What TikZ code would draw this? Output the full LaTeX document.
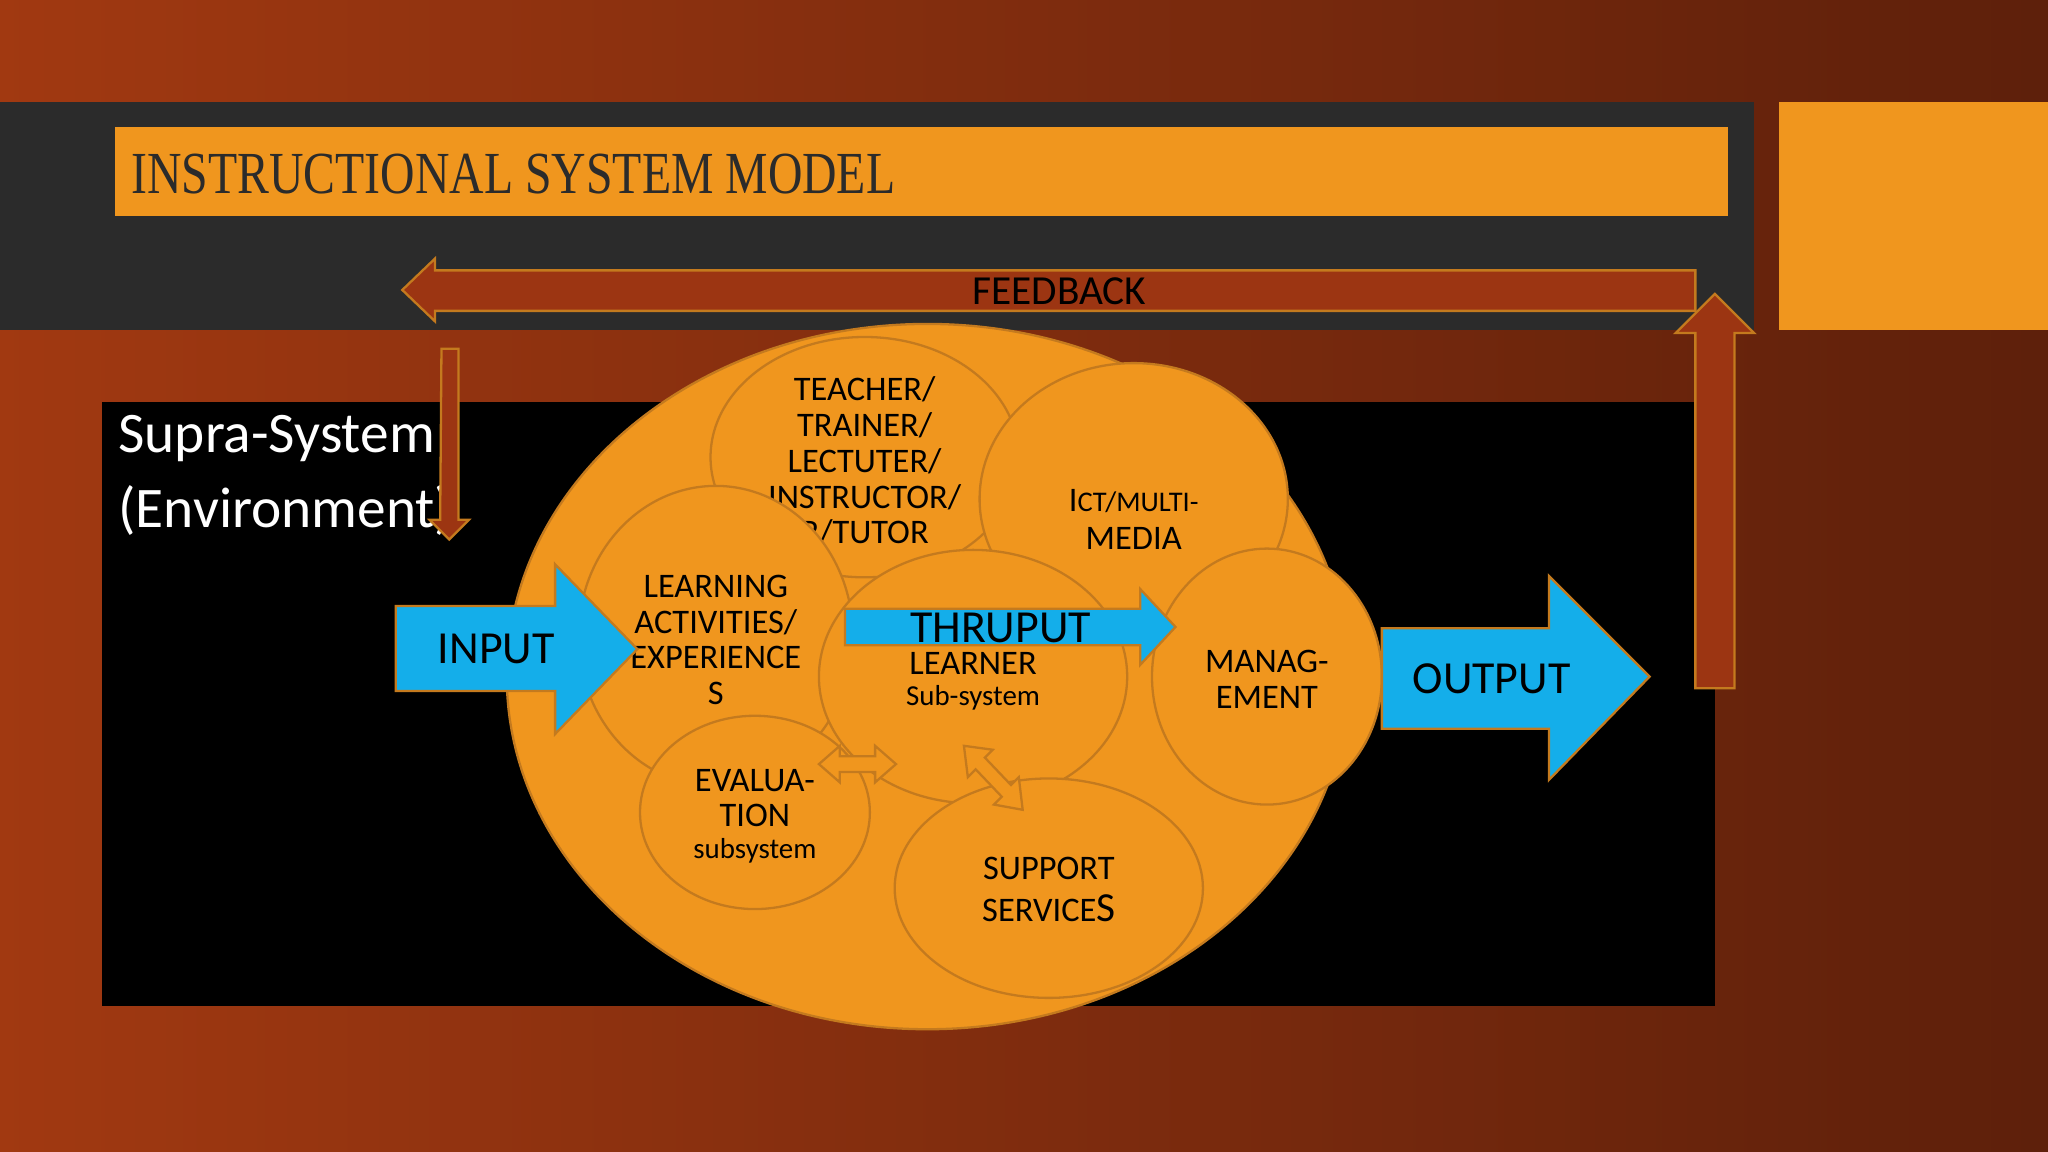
\documentclass[tikz,border=0pt]{standalone}
\usepackage{fontspec}
\setmainfont{Carlito}
\newfontfamily\titlefont{Liberation Serif}
\definecolor{org}{HTML}{F0961E}
\definecolor{orgline}{HTML}{C47A1E}
\definecolor{rust}{HTML}{9C3512}
\definecolor{cyanb}{HTML}{14AEEA}
\definecolor{band}{HTML}{2B2B2B}
\tikzset{
 blob/.style={draw=orgline,line width=0.5pt,fill=org},
 lbl/.style={align=center,text=black,inner sep=0pt,font=\fontsize{7.5}{7.8}\selectfont},
 fb/.style={draw=orgline,line width=0.5pt,fill=rust},
 cy/.style={draw=orgline,line width=0.5pt,fill=cyanb},
}
\begin{document}
\begin{tikzpicture}[x=0.1mm,y=-0.1mm]
\useasboundingbox (0,0) rectangle (1568,882);
\shade[left color=rust!95!orange, right color=rust!60!black] (0,0) rectangle (1568,882);
\fill[band] (0,78) rectangle (1343,253);
\fill[org] (1362,78) rectangle (1568,253);
\fill[org] (88,97) rectangle (1323,165);
\node[anchor=west,inner sep=0pt,text=band] (title) at (100,133) {\scalebox{0.8}[1]{\titlefont\fontsize{13}{13}\selectfont INSTRUCTIONAL SYSTEM MODEL}};
\fill[black] (78,308) rectangle (1313,770);
\node[anchor=west,text=white,align=left,inner sep=0pt,font=\fontsize{12.5}{16.5}\selectfont] (supra) at (90,364) {Supra-System\\(Environment)};
% feedback
\draw[fb] (1298,207) -- (333,207) -- (333,198) -- (308,222) -- (333,246) -- (333,238) -- (1298,238) -- cycle;
\node[lbl,font=\fontsize{9}{9}\selectfont] (fbt) at (811,223) {FEEDBACK};
\draw[fb] (338,267) -- (351,267) -- (351,398) -- (359,398) -- (344,413) -- (329,398) -- (337,398) -- cycle;
\draw[fb] (1298,527) -- (1298,255) -- (1283,255) -- (1313,225) -- (1343,255) -- (1328,255) -- (1328,527) -- cycle;
% ellipse and circles
\draw[blob] (710,518) ellipse [x radius=322, y radius=270];
\draw[blob] (662,350) ellipse [x radius=118, y radius=92];
\node[lbl] (teacher) at (662,353) {TEACHER/\\TRAINER/\\LECTUTER/\\INSTRUCTOR/\\R/TUTOR};
\draw[blob] (868,382) ellipse [x radius=118, y radius=104];
\node[lbl,font=\fontsize{7.5}{8.3}\selectfont] (ict) at (868,398) {I{\fontsize{6.2}{8}\selectfont CT/MULTI-}\\MEDIA};
\draw[blob] (548,487) ellipse [x radius=105, y radius=115];
\node[lbl] (learn) at (548,490) {LEARNING\\ACTIVITIES/\\EXPERIENCE\\S};
\draw[blob] (745,518) ellipse [x radius=118, y radius=97];
\node[lbl] (learner) at (745,508) {LEARNER};
\node[lbl,font=\fontsize{6.3}{7}\selectfont] (learnersub) at (745,534) {Sub-system};
\draw[blob] (970,518) ellipse [x radius=88, y radius=98];
\node[lbl] (mgmt) at (970,520) {MANAG-\\EMENT};
\draw[blob] (578,622) ellipse [x radius=88, y radius=74];
\node[lbl] (eval) at (578,611) {EVALUA-\\TION};
\node[lbl,font=\fontsize{6.3}{7}\selectfont] (evalsub) at (578,651) {subsystem};
\draw[blob] (803,680) ellipse [x radius=118, y radius=84];
\node[lbl,font=\fontsize{7.5}{9.2}\selectfont] (supp) at (803,681) {SUPPORT\\SERVICE{\fontsize{9}{9}\selectfont S}};
% small double arrows
\draw[blob] (627,585) -- (643,571) -- (643,579) -- (670,579) -- (670,571) -- (686,585) -- (670,599) -- (670,591) -- (643,591) -- (643,599) -- cycle;
\draw[blob] (738,571) -- (760,574) -- (754,580) -- (774,601) -- (780,595) -- (783,620) -- (761,616) -- (767,610) -- (747,589) -- (741,595) -- cycle;
% cyan arrows
\draw[cy] (303,464) -- (425,464) -- (425,432) -- (488,497) -- (425,562) -- (425,529) -- (303,529) -- cycle;
\node[lbl,font=\fontsize{10}{10}\selectfont] (input) at (380,497) {INPUT};
\draw[cy] (1058,481) -- (1186,481) -- (1186,441) -- (1263,518) -- (1186,597) -- (1186,558) -- (1058,558) -- cycle;
\node[lbl,font=\fontsize{10}{10}\selectfont] (output) at (1142,520) {OUTPUT};
\draw[cy] (647,466) -- (873,466) -- (873,451) -- (900,480) -- (873,509) -- (873,494) -- (647,494) -- cycle;
\node[lbl,font=\fontsize{10}{10}\selectfont] (thru) at (766,481) {THRUPUT};
\end{tikzpicture}
\end{document}
